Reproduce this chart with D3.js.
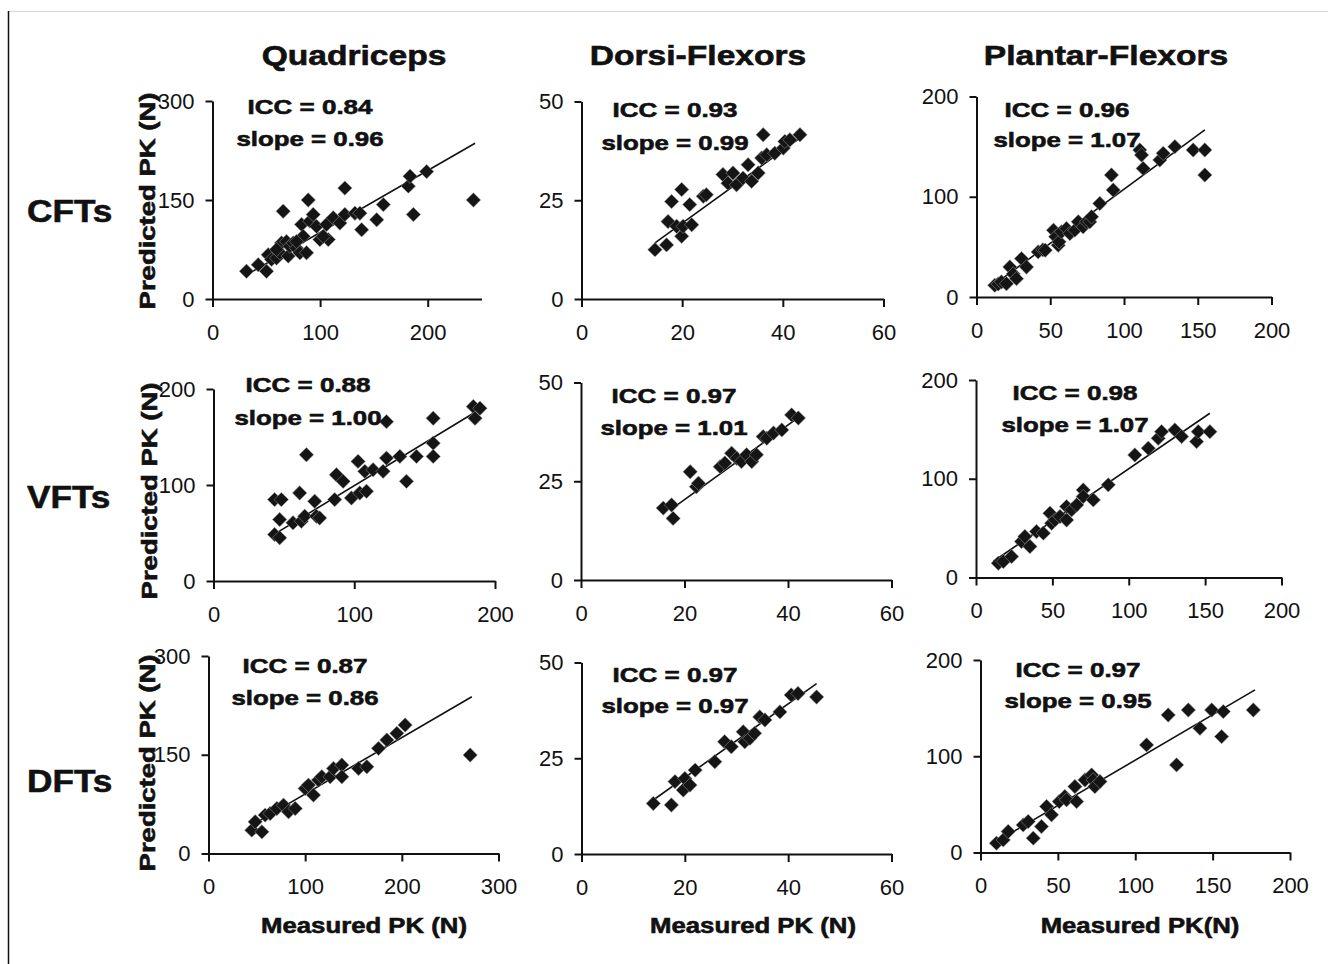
<!DOCTYPE html>
<html><head><meta charset="utf-8">
<script src="https://cdn.jsdelivr.net/npm/d3@7"></script>
<style>body{margin:0;background:#fff}svg{display:block}</style>
</head><body><svg id="c" width="1328" height="964"></svg>
<script>
// ---------- DATA ----------
const muscles = ["Quadriceps", "Dorsi-Flexors", "Plantar-Flexors"];
const tests = ["CFTs", "VFTs", "DFTs"];
const yAxisTitle = "Predicted PK (N)";
const xAxisTitles = ["Measured PK (N)", "Measured PK (N)", "Measured PK(N)"];

const iccLabels = ["0.84","0.93","0.96","0.88","0.97","0.98","0.87","0.97","0.97"];
const slopeLabels = ["0.96","0.99","1.07","1.00","1.01","1.07","0.86","0.97","0.95"];

const xDomains = [[0,250],[0,60],[0,200],[0,200],[0,60],[0,200],[0,300],[0,60],[0,200]];
const yDomains = [[0,300],[0,50],[0,200],[0,200],[0,50],[0,200],[0,300],[0,50],[0,200]];
const xTickValues = [[0,100,200],[0,20,40,60],[0,50,100,150,200],[0,100,200],[0,20,40,60],[0,50,100,150,200],[0,100,200,300],[0,20,40,60],[0,50,100,150,200]];
const yTickValues = [[0,150,300],[0,25,50],[0,100,200],[0,100,200],[0,25,50],[0,100,200],[0,150,300],[0,25,50],[0,100,200]];

// fitted lines: [x0, y0, x1, y1] in data units
const fitLines = [
  [31,36,244,236],[14.6,14.2,44.4,41.7],[11.3,11.7,154.8,166.7],
  [41,46.7,190.5,180],[17.2,17.7,42.3,41.4],[11.3,16.2,153.1,166.3],
  [44.8,43.1,272.4,238.2],[13.9,14.1,45.5,44.5],[10.3,11.4,177.4,168.9]
];

const cftQuadX = [31.6,42.5,50.2,51.8,54.9,59.5,62.6,64.2,65.7,68.8,70.4,71.9,75,78.1,81.2,82.8,84.3,87.4,89,90.5,93.6,96.7,99.8,107.6,106,112.2,118.4,123,123,132.4,137,138.6,152.6,158.8,182,183.6,186.7,199,242.5,59.5,78.1,103];
const cftQuadY = [42,52,42,67,60,62,70,85,133,87,65,80,85,77,70,113,95,70,150,118,128,110,90,90,113,123,115,128,168,130,130,105,120,143,171,186,128,193,150,75,87,95];

const cftDorsiX = [14.6,16.9,17.2,17.9,19.9,18.9,19.9,20.2,21.9,21.5,24.2,24.8,28.1,29.1,30.1,30.8,32.1,33.1,33.8,35.1,35.8,36.1,36.8,38.4,40.1,40.4,41.4,43.4];
const cftDorsiY = [12.5,13.7,19.6,24.7,27.7,18.4,15.9,18.4,18.8,23.9,26,26.4,31.5,29.3,31.9,28.9,30.6,34,29.8,31.9,35.7,41.6,36.5,36.9,38.2,39.9,40.3,41.6];

const cftPlantX = [12.4,14.7,16.9,20.3,22.6,24.9,27.1,30.5,33.9,41.8,45,46.6,52.2,53.7,55.4,56,57.6,61,63.3,66.7,69,72.3,74.6,76.8,78,83.6,91.5,92.7,110.7,111.9,113,124.3,126.6,134.5,146.9,154.8,154.8];
const cftPlantY = [11.7,13,15,13.3,30,23,18.3,38.3,30,45,47,46.7,66.7,60,51.7,55,65,68.3,63.3,66.7,75,70,75,75,80,93.3,121.7,106.7,146.7,141.7,128.3,136.7,143.3,150,146.7,146.7,121.7];

const vftQuadX = [43.4,47,47,43.4,48.2,56.5,61.2,62.4,64.8,66,71.9,73.1,75.4,86.1,87.3,92.1,98,102.7,103.9,108.7,107.5,113.4,120.5,122.9,122.9,132.4,137.1,144.2,156.1,156.1,156.1,184.6,189.3,185.8];
const vftQuadY = [48.4,45,64,84.8,84.8,60.6,91.7,62.3,67.5,131.5,83,67.5,65.7,84.8,110.7,103.8,86.5,124.6,91.7,93.4,114.2,115.9,114.2,128,166,129.8,103.8,129.8,169.5,143.6,129.8,181.7,179.9,169.5];

const vftDorsiX = [15.9,17.5,17.8,21.1,22.3,22.7,26.9,27.8,29.1,30.1,31,32,33,33.9,35.2,35.9,37.2,38.8,40.7,42];
const vftDorsiY = [18.2,19,15.6,27.4,23.6,24.5,28.7,29.6,32.1,30.8,30,31.7,30,31.7,36.3,35.9,37.2,38,41.8,41];

const vftPlantX = [14.6,17.9,23.3,29.8,32,35.3,39.6,44.1,48.4,49.5,51.7,55,59.3,59.3,62.6,65.9,70.2,70.2,76.8,86.6,104,112.8,119.3,121.5,130.2,134.6,144.4,145.5,153.1];
const vftPlantY = [14.5,16.2,21.2,36.4,41.5,31.4,46.5,44.9,65.1,55,58.3,61.7,58.3,71.8,68.5,73.5,88.7,82,78.6,93.8,124.1,130.9,141,147.7,149.4,142.7,137.6,147.7,147.7];

const dftQuadX = [44.8,48.3,55.2,58.6,63.8,70.7,77.6,82.8,89.7,100,103.4,108.6,113.8,117.2,125.9,129.3,137.9,137.9,155.2,163.8,175.9,184.5,194.8,203.4,270.7];
const dftQuadY = [35.5,48.1,32.9,58.3,60.8,68.4,73.5,63.4,68.4,98.8,103.9,88.7,111.5,116.6,116.6,129.2,134.3,116.6,129.2,131.8,159.7,172.3,182.5,195.1,149.5];

const dftDorsiX = [13.9,17.4,18.1,19.7,20,21,22,25.8,27.7,29,31.3,31.6,32.6,33.5,34.5,35.5,38.4,40.6,41.9,45.5];
const dftDorsiY = [13.2,12.8,18.9,16.7,19.7,18,21.9,24.1,29.3,28,31.9,29.3,30.2,31.5,35.8,35,37.1,41.5,41.9,41];

const dftPlantX = [10.3,14.7,17.9,27.6,30.8,34.1,39.4,42.7,45.9,50.9,54.5,55.6,61,62.1,67.5,71.8,72.8,73.9,77.2,107.3,121.3,126.7,134.3,141.8,149.4,156.9,155.8,176.3];
const dftPlantY = [9.7,13.1,21.8,28.7,32.2,14.9,27,47.8,39.1,52.9,58.1,54.7,68.5,52.9,75.4,80.6,75.4,68.5,73.7,111.8,142.9,91,148.1,129.1,148.1,146.4,120.4,148.1];

const seriesX = [cftQuadX, cftDorsiX, cftPlantX, vftQuadX, vftDorsiX, vftPlantX, dftQuadX, dftDorsiX, dftPlantX];
const seriesY = [cftQuadY, cftDorsiY, cftPlantY, vftQuadY, vftDorsiY, vftPlantY, dftQuadY, dftDorsiY, dftPlantY];

// ---------- LAYOUT ----------
const boxes = [ // [left, right, bottom, top]
  [212.5,481.5,299,101],[581.5,883.5,299,101.5],[976.5,1271.5,297,96.5],
  [213.5,495,581,389],[581,891.5,580,382.5],[976,1281.5,577.5,380],
  [208.5,498.5,853.5,656],[581.5,891.5,854,662.5],[980.5,1290,852.5,660]
];
const labelPos = [ // [centerX, iccBaseline, slopeBaseline]
  [310,113.5,145.5],[675,117,149.5],[1067,116.5,147],
  [308,391.5,425],[674,403,435],[1075,400,431.5],
  [305,673,705],[675,681.5,713],[1078,676.5,708]
];
const yTitlePos = [[155,201],[157,491],[155,763]]; // [baseline x, center y] per row
const FONT = "'Liberation Sans', Arial, Helvetica, sans-serif";

const svg = d3.select("#c");
svg.append("rect").attr("width",1328).attr("height",964).attr("fill","#fff");
svg.append("line").attr("x1",8).attr("x2",1328).attr("y1",11.5).attr("y2",11.5).attr("stroke","#d8d8d8").attr("stroke-width",1);
svg.append("line").attr("x1",8.5).attr("x2",8.5).attr("y1",11).attr("y2",964).attr("stroke","#111").attr("stroke-width",1.5);

function btext(parent, x, y, str, size, sx, anchor, rot){
  const g = parent.append("g").attr("transform", `translate(${x},${y})` + (rot ? ` rotate(${rot})` : ""));
  g.append("text").attr("transform",`scale(${sx},1)`).attr("text-anchor",anchor||"middle")
    .attr("font-family",FONT).attr("font-weight","bold").attr("font-size",size)
    .attr("fill","#111").attr("stroke","#111").attr("stroke-width",0.6).text(str);
}

const titleX = [354, 698, 1106];
muscles.forEach((m,i)=> btext(svg, titleX[i], 65, m, 28, 1.2, "middle"));
const rowBase = [222, 508, 792];
tests.forEach((t,i)=> btext(svg, 27, rowBase[i], t, 32, 1.1, "start"));

const diamond = d3.symbol().type(d3.symbolSquare).size(104);

for (let p=0;p<9;p++){
  const [L,R,B,T] = boxes[p];
  const x = d3.scaleLinear().domain(xDomains[p]).range([L,R]);
  const y = d3.scaleLinear().domain(yDomains[p]).range([B,T]);
  const g = svg.append("g");

  const xa = g.append("g").attr("transform",`translate(0,${B})`)
    .call(d3.axisBottom(x).tickValues(xTickValues[p]).tickSize(8).tickSizeOuter(0).tickPadding(17).tickFormat(d3.format("d")));
  const ya = g.append("g").attr("transform",`translate(${L},0)`)
    .call(d3.axisLeft(y).tickValues(yTickValues[p]).tickSize(7).tickSizeOuter(0).tickPadding(11).tickFormat(d3.format("d")));
  [xa,ya].forEach(a=>{
    a.select(".domain").attr("stroke","#111").attr("stroke-width",2);
    a.selectAll(".tick line").attr("stroke","#111").attr("stroke-width",2);
    a.selectAll(".tick text").attr("font-family",FONT).attr("font-size",22).attr("fill","#111");
  });

  const f = fitLines[p];
  g.append("line").attr("x1",x(f[0])).attr("y1",y(f[1])).attr("x2",x(f[2])).attr("y2",y(f[3]))
    .attr("stroke","#111").attr("stroke-width",1.6);

  const pts = seriesX[p].map((v,i)=>[v, seriesY[p][i]]);
  g.selectAll("path.pt").data(pts).join("path").attr("class","pt")
    .attr("d",diamond)
    .attr("transform",d=>`translate(${x(d[0])},${y(d[1])}) rotate(45)`)
    .attr("fill","#151515").attr("stroke","#9a9a9a").attr("stroke-width",0.5);

  const [cx,b1,b2] = labelPos[p];
  btext(g, cx, b1, "ICC = " + iccLabels[p], 21, 1.24, "middle");
  btext(g, cx, b2, "slope = " + slopeLabels[p], 21, 1.23, "middle");

  if (p % 3 === 0){ const [tx,ty] = yTitlePos[p/3]; btext(g, tx, ty, yAxisTitle, 22, 1.25, "middle", -90); }
  if (p >= 6) btext(g, [364,753,1140][p-6], 933, xAxisTitles[p-6], 22, 1.17, "middle");
}
</script></body></html>
